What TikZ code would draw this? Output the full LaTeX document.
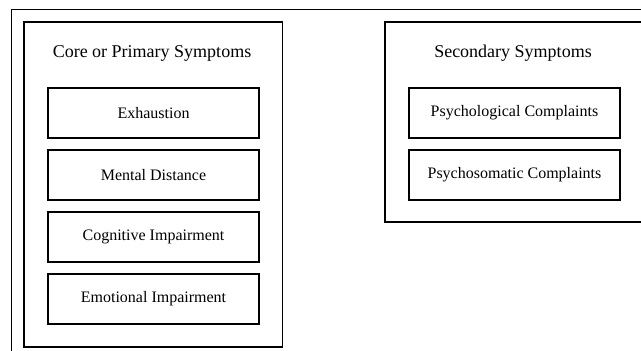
\documentclass[tikz,border=0pt]{standalone}
\usepackage{fontspec}
\setmainfont{Liberation Serif}
\usetikzlibrary{positioning}

\begin{document}
\begin{tikzpicture}[x=1pt,y=1pt,node distance=10.5pt,
  group/.style={draw,line width=1.5pt,inner sep=0pt},
  symptom/.style={draw,line width=1.5pt,minimum width=211pt,minimum height=50pt,
    font=\fontsize{16}{19}\selectfont},
  heading/.style={font=\fontsize{18}{21}\selectfont}]
  \useasboundingbox (0,0) rectangle (641,351);
  \clip (0,0) rectangle (641,351);
  % thin frame round everything
  \draw[line width=0.8pt] (11,-10) rectangle (660,341.5);

  % core symptoms
  \node[group,minimum width=258.5pt,minimum height=325pt] (core) at (153.25,166.5) {};
  \node[heading] (coretitle) at (152,298) {Core or Primary Symptoms};
  \node[symptom] (exh) at (153.5,238) {Exhaustion};
  \node[symptom] (mental) [below=of exh] {Mental Distance};
  \node[symptom] (cogn) [below=of mental] {Cognitive Impairment};
  \node[symptom] (emot) [below=of cogn] {Emotional Impairment};

  % secondary symptoms
  \node[group,minimum width=275pt,minimum height=200pt] (second) at (522.5,229) {};
  \node[heading] (sectitle) at (513,298) {Secondary Symptoms};
  \node[symptom] (psycho) at (514.5,238) {Psychological Complaints};
  \node[symptom] (somatic) [below=of psycho] {Psychosomatic Complaints};
\end{tikzpicture}
\end{document}
